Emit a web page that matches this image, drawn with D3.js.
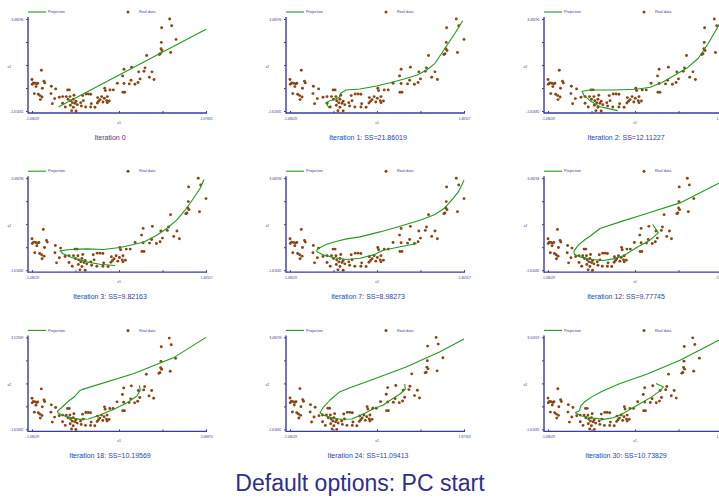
<!DOCTYPE html>
<html>
<head>
<meta charset="utf-8">
<script src="https://cdn.jsdelivr.net/npm/d3@7"></script>
<style>
  html, body { margin: 0; padding: 0; background: #ffffff; }
  svg { display: block; }
</style>
</head>
<body>
<svg id="chart" width="719" height="498"></svg>
<script>
// Observed data (x1, x2)
const realX = [-1.480,-1.453,-1.475,-1.419,-1.385,-1.364,-1.398,-1.289,-1.235,-1.221,
  -1.269,-1.433,-1.351,-1.317,-1.276,-1.310,-1.085,-0.996,-1.092,-1.017,
  -1.064,-0.921,-0.751,-0.717,-0.853,-0.799,-0.778,-0.703,-0.621,-0.744,
  -0.689,-0.635,-0.580,-0.655,-0.601,-0.853,-0.696,-0.635,-0.553,-0.471,
  -0.669,-0.580,-0.444,-0.376,-0.328,-0.280,-0.485,-0.430,-0.383,-0.280,
  -0.192,-0.267,-0.144,-0.137,-0.056,-0.090,-0.001,0.047,-0.117,-0.028,
  0.060,0.006,0.020,0.060,0.115,0.183,0.101,0.265,0.374,0.401,
  0.381,0.415,0.401,0.510,0.545,0.558,0.626,0.688,0.701,0.729,
  0.810,0.831,0.865,0.919,0.974,1.015,1.124,1.144,1.158,1.178,
  1.165,1.355,1.171,1.335,1.376,1.46557];
const realY = [0.126,-0.059,-0.133,-0.078,-0.115,-0.078,-0.263,0.646,0.034,-0.059,
  -0.356,-0.653,-0.690,-0.764,-0.838,-0.986,-0.244,-0.393,-0.653,-0.930,
  -1.209,-0.856,-0.448,-0.448,-0.819,-1.394,-0.819,-0.819,-0.745,-0.968,
  -1.042,-0.968,-1.079,-1.153,-1.190,-1.190,-1.302,-1.413,-1.265,-1.339,
  -1.598,-1.61682,-0.764,-0.671,-0.671,-0.690,-1.153,-1.042,-1.394,-1.394,
  -1.413,-1.209,-1.172,-0.875,-0.819,-0.986,-0.912,-1.042,-1.079,-1.116,
  -1.153,-0.356,-0.486,-0.819,-0.448,-0.448,-1.060,-0.078,0.330,-0.096,
  -0.578,-0.578,0.701,-0.115,0.089,0.813,-0.133,-0.041,0.553,0.163,
  0.590,0.775,1.462,0.256,0.553,0.126,1.517,1.554,1.833,1.740,
  2.185,1.629,3.001,3.48296,3.112,2.352];

// Principal curve after each iteration
const projIter0 = [[-0.942,-1.395],[2.07831,2.912]];
const projIter1 = [[-0.815,-1.468],[-0.871,-1.156],[-0.803,-1.045],[-0.718,-0.968],[-0.645,-0.857],
  [-0.622,-0.636],[-0.532,-0.453],[-0.295,-0.397],[-0.013,-0.231],[0.213,-0.046],[0.438,0.140],
  [0.665,0.362],[0.834,0.656],[0.975,1.027],[1.088,1.582],[1.200,2.136],[1.313,2.690],[1.443,3.389]];
const projIter2 = [[-0.300,-1.598],[-0.600,-1.378],[-0.769,-1.045],[-0.871,-0.747],[-0.905,-0.525],
  [-0.769,-0.453],[-0.375,-0.453],[0.021,-0.414],[0.247,-0.303],[0.444,-0.046],[0.641,0.323],
  [0.867,0.750],[1.064,1.305],[1.234,2.136],[1.347,2.779],[1.46557,3.45]];
const projIter3 = [[-0.075,-1.358],[-0.329,-1.284],[-0.555,-1.156],[-0.809,-0.913],[-0.961,-0.691],
  [-1.006,-0.547],[-0.837,-0.470],[-0.555,-0.436],[-0.273,-0.470],[0.010,-0.359],[0.405,-0.064],
  [0.631,0.323],[0.800,0.695],[0.969,1.155],[1.110,1.709],[1.251,2.357],[1.364,2.912],[1.432,3.411]];
const projIter7 = [[0.665,-0.137],[0.326,-0.359],[0.100,-0.508],[-0.070,-0.769],[-0.295,-0.952],
  [-0.520,-1.025],[-0.747,-0.913],[-0.917,-0.769],[-1.028,-0.581],[-1.018,-0.436],[-0.859,-0.175],
  [-0.689,-0.009],[-0.520,0.118],[-0.295,0.229],[0.043,0.506],[0.382,0.822],[0.721,1.155],
  [0.975,1.471],[1.127,1.803],[1.257,2.263],[1.369,2.724],[1.46557,3.372]];
const projIter12 = [[0.635,0.915],[0.749,0.451],[0.581,0.046],[0.312,-0.359],[0.041,-0.824],
  [-0.161,-0.990],[-0.363,-1.079],[-0.632,-1.007],[-0.834,-0.879],[-0.949,-0.730],[-0.955,-0.547],
  [-0.868,-0.231],[-0.733,0.085],[-0.632,0.268],[-0.430,0.695],[-0.025,1.061],[0.514,1.526],
  [1.187,2.114],[2.03571,3.29]];
const projIter18 = [[0.721,0.844],[0.741,0.567],[0.667,0.235],[0.462,-0.136],[0.187,-0.503],
  [-0.085,-0.818],[-0.325,-1.040],[-0.496,-1.057],[-0.769,-0.913],[-0.941,-0.708],[-0.961,-0.613],
  [-0.871,-0.392],[-0.736,-0.043],[-0.598,0.235],[-0.510,0.528],[-0.461,0.606],[0.598,1.493],
  [1.418,2.380],[2.08870,3.52309]];
const projIter24 = [[0.730,0.900],[0.742,0.623],[0.639,0.346],[0.479,0.052],[0.318,-0.264],
  [0.125,-0.469],[-0.067,-0.763],[-0.291,-1.040],[-0.517,-1.057],[-0.709,-0.946],[-0.838,-0.818],
  [-0.902,-0.691],[-0.838,-0.392],[-0.709,0.013],[-0.517,0.473],[-0.324,0.695],[0.125,1.160],
  [0.768,1.859],[1.410,2.690],[1.87263,3.394]];
const projIter30 = [[0.621,0.939],[0.764,0.750],[0.699,0.528],[0.537,0.196],[0.374,-0.081],
  [0.180,-0.392],[-0.015,-0.724],[-0.210,-0.968],[-0.404,-1.057],[-0.599,-0.985],[-0.825,-0.874],
  [-0.949,-0.691],[-0.871,-0.580],[-0.844,-0.320],[-0.760,-0.059],[-0.630,0.196],[-0.436,0.495],
  [-0.079,0.939],[0.440,1.454],[1.088,2.230],[1.860,3.378],[1.90541,3.45]];

const projections = [projIter0, projIter1, projIter2, projIter3, projIter7,
  projIter12, projIter18, projIter24, projIter30];

const panelTitles = ["Iteration 0", "Iteration 1: SS=21.86019", "Iteration 2: SS=12.11227",
  "Iteration 3: SS=9.82163", "Iteration 7: SS=8.98273", "Iteration 12: SS=9.77745",
  "Iteration 18: SS=10.19569", "Iteration 24: SS=11.09413", "Iteration 30: SS=10.73829"];

// Axis extents of each panel
const xMin = -1.48029;
const xMaxValues = [2.07831, 1.46557, 1.46557, 1.46557, 1.46557, 2.03571, 2.08870, 1.87263, 1.90541];
const yMin = -1.61682;
const yMaxValues = [3.48296, 3.48296, 3.48296, 3.48296, 3.48296, 3.48296, 3.52309, 3.48296, 3.50919];

const legendLabels = ["Projection", "Real data"];
const axisTitles = ["x1", "x2"];
const mainTitle = "Default options: PC start";

const font = "'Liberation Sans', Arial, Helvetica, sans-serif";
const axisColor = "#3a3aa4";
const textColor = "#3c3c9e";
const dotColor = "#8b4513";
const curveColor = "#1f9b1f";

const svg = d3.select("#chart");
const colX = [28, 286, 544];
const rowY = [0, 159.2, 318.4];
const fmt = d => d.toFixed(5);

projections.forEach((proj, i) => {
  const g = svg.append("g")
    .attr("transform", `translate(${colX[i % 3]},${rowY[Math.floor(i / 3)]})`);

  const x = d3.scaleLinear().domain([xMin, xMaxValues[i]]).range([4, 178]);
  const y = d3.scaleLinear().domain([yMin, yMaxValues[i]]).range([111, 19]);

  // legend
  g.append("line").attr("x1", 0).attr("x2", 18).attr("y1", 12).attr("y2", 12)
    .attr("stroke", curveColor).attr("stroke-width", 1.1);
  g.append("text").attr("x", 20).attr("y", 13.3).text(legendLabels[0])
    .attr("font-size", 3.8).attr("font-family", font).attr("fill", textColor);
  g.append("circle").attr("cx", 100).attr("cy", 12).attr("r", 1.5).attr("fill", dotColor);
  g.append("text").attr("x", 111).attr("y", 13.3).text(legendLabels[1])
    .attr("font-size", 3.8).attr("font-family", font).attr("fill", textColor);

  // axes
  const xTicks = d3.range(5).map(k => xMin + k * (xMaxValues[i] - xMin) / 4);
  const yTicks = d3.range(5).map(k => yMin + k * (yMaxValues[i] - yMin) / 4);

  const gx = g.append("g").attr("transform", "translate(0,113)")
    .call(d3.axisBottom(x).tickValues(xTicks).tickSize(-2).tickSizeOuter(0)
      .tickFormat((d, k) => (k === 0 || k === 4) ? fmt(d) : ""));
  gx.select(".domain").remove();
  gx.selectAll(".tick line").attr("stroke", axisColor).attr("stroke-width", 1);
  gx.selectAll(".tick text").attr("y", 6.6).attr("dy", null)
    .attr("font-size", 3.4).attr("font-family", font).attr("fill", textColor);

  const gy = g.append("g")
    .call(d3.axisLeft(y).tickValues(yTicks).tickSize(2).tickSizeOuter(0).tickPadding(2.5)
      .tickFormat((d, k) => (k === 0 || k === 4) ? fmt(d) : ""));
  gy.select(".domain").remove();
  gy.selectAll(".tick line").attr("stroke", axisColor).attr("stroke-width", 1);
  gy.selectAll(".tick text").attr("dy", "0.35em")
    .attr("font-size", 3.4).attr("font-family", font).attr("fill", textColor);

  g.append("line").attr("x1", 0).attr("x2", 179).attr("y1", 113).attr("y2", 113)
    .attr("stroke", axisColor).attr("stroke-width", 1.3);
  g.append("line").attr("x1", 0).attr("x2", 0).attr("y1", 113.6).attr("y2", 17)
    .attr("stroke", axisColor).attr("stroke-width", 1.4);

  g.append("text").attr("x", 91).attr("y", 123.6).attr("text-anchor", "middle")
    .text(axisTitles[0]).attr("font-size", 3.4).attr("font-family", font).attr("fill", textColor);
  g.append("text").attr("x", -18.6).attr("y", 67.9).attr("text-anchor", "middle")
    .text(axisTitles[1]).attr("font-size", 3.4).attr("font-family", font).attr("fill", textColor);

  // observed points
  g.append("g").selectAll("circle")
    .data(d3.range(realX.length))
    .join("circle")
    .attr("cx", k => x(realX[k]))
    .attr("cy", k => y(realY[k]))
    .attr("r", 1.45)
    .attr("fill", dotColor);

  // projection curve
  g.append("path")
    .datum(proj)
    .attr("d", d3.line().x(d => x(d[0])).y(d => y(d[1])))
    .attr("fill", "none")
    .attr("stroke", curveColor)
    .attr("stroke-width", 1.1)
    .attr("stroke-linejoin", "round");

  // panel title
  g.append("text").attr("x", 82).attr("y", 139.7).attr("text-anchor", "middle")
    .text(panelTitles[i]).attr("font-size", 7).attr("font-family", font).attr("fill", textColor);
});

svg.append("text")
  .attr("x", 360).attr("y", 490.5).attr("text-anchor", "middle")
  .text(mainTitle)
  .attr("font-size", 23).attr("font-family", font).attr("fill", "#2e2e92");
</script>
</body>
</html>
